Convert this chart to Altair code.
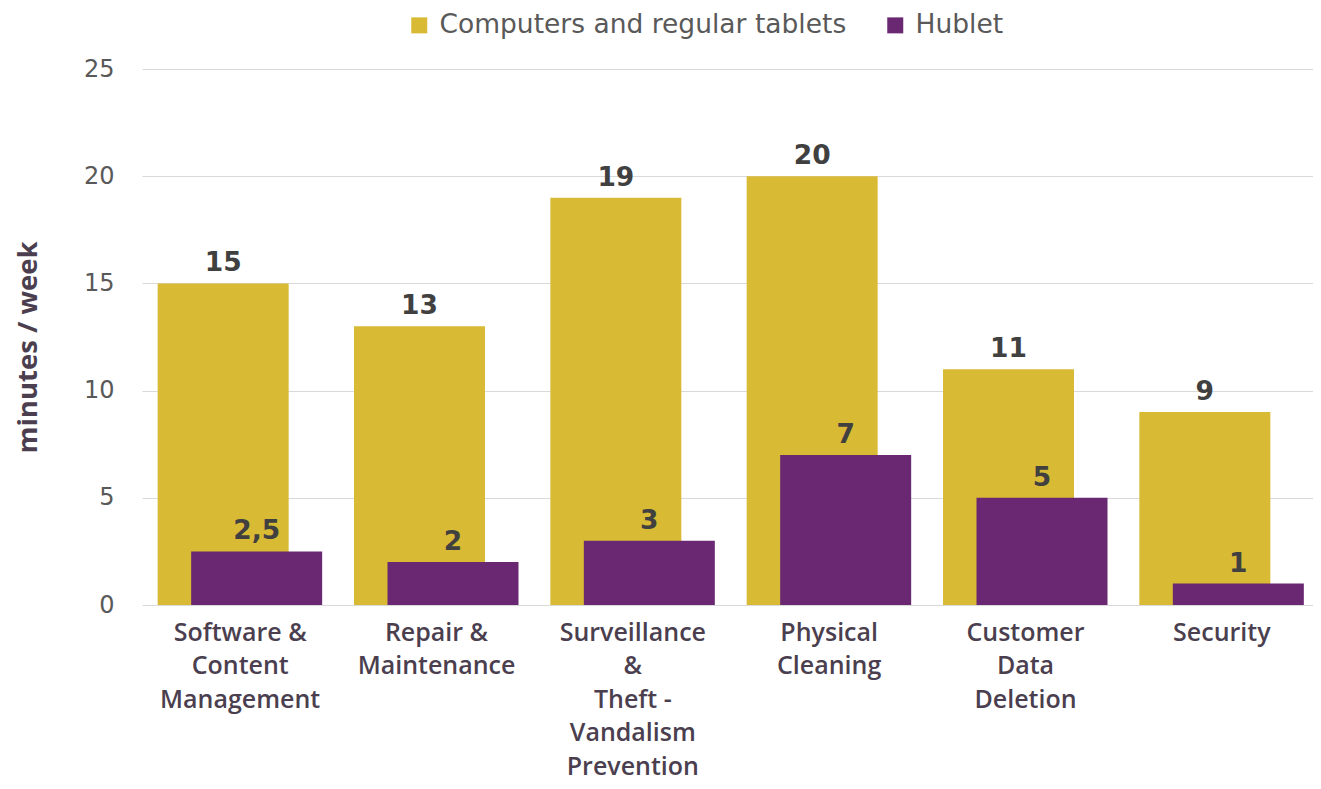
import altair as alt
import pandas as pd

categories = [
    "Software &\nContent\nManagement",
    "Repair &\nMaintenance",
    "Surveillance\n&\nTheft -\nVandalism\nPrevention",
    "Physical\nCleaning",
    "Customer\nData\nDeletion",
    "Security",
]
series_names = ["Computers and regular tablets", "Hublet"]
computers = [15, 13, 19, 20, 11, 9]
hublet = [2.5, 2, 3, 7, 5, 1]
colors = ["#D9BA35", "#6A2873"]

def fmt(v):
    s = str(v) if v != int(v) else str(int(v))
    return s.replace(".", ",")

rows = []
for c, v in zip(categories, computers):
    rows.append({"cat": c, "series": series_names[0], "value": v, "label": fmt(v)})
for c, v in zip(categories, hublet):
    rows.append({"cat": c, "series": series_names[1], "value": v, "label": fmt(v)})
df = pd.DataFrame(rows)

x = alt.X("cat:N", sort=categories, title=None,
          scale=alt.Scale(paddingInner=0, paddingOuter=0, range=[0, 1178]),
          axis=alt.Axis(labelExpr="split(datum.label, '\\n')", labelAngle=0,
                        labelFont="Open Sans", labelFontWeight=600, labelFontSize=25,
                        labelColor="#4B3F4F", labelLineHeight=33.5, labelPadding=15,
                        ticks=False, domain=False, grid=False, labelAlign="center",
                        labelLimit=0))
y = alt.Y("value:Q", title="minutes / week",
          scale=alt.Scale(domain=[0, 25], nice=False),
          axis=alt.Axis(values=[0, 5, 10, 15, 20, 25], ticks=False, domain=False,
                        grid=True, gridColor="#D9D9D9", gridWidth=1,
                        labelFont="DejaVu Sans", labelFontSize=24, labelColor="#595959",
                        labelPadding=28,
                        titleFont="Open Sans", titleFontWeight="bold", titleFontSize=27.5,
                        titleColor="#4B3F4F", titleAngle=-90, titleX=-114, titleY=278,
                        titleAlign="center", titleBaseline="middle"))
color = alt.Color("series:N", scale=alt.Scale(domain=series_names, range=colors),
                  legend=alt.Legend(title=None, orient="none", direction="horizontal",
                                    legendX=264, legendY=-57, symbolType="square",
                                    symbolSize=256, symbolStrokeWidth=0,
                                    labelFont="DejaVu Sans", labelFontSize=26.5,
                                    labelColor="#595959", labelOffset=7,
                                    labelLimit=0, columnPadding=35))

base = alt.Chart(df)
bar_c = base.transform_filter(alt.datum.series == series_names[0]).mark_bar(
    width=131, xOffset=-17).encode(x=x, y=y, color=color)
bar_h = base.transform_filter(alt.datum.series == series_names[1]).mark_bar(
    width=131, xOffset=16.5).encode(x=x, y=y, color=color)
txt_c = base.transform_filter(alt.datum.series == series_names[0]).mark_text(
    xOffset=-17, dy=-12, baseline="alphabetic", font="DejaVu Sans", fontWeight="bold",
    fontSize=26.5, color="#404040").encode(x=x, y=y, text="label:N")
txt_h = base.transform_filter(alt.datum.series == series_names[1]).mark_text(
    xOffset=16.5, dy=-12, baseline="alphabetic", font="DejaVu Sans", fontWeight="bold",
    fontSize=26.5, color="#404040").encode(x=x, y=y, text="label:N")

chart = alt.layer(bar_c, bar_h, txt_c, txt_h).properties(
    width=1171, height=536,
    autosize=alt.AutoSizeParams(type="none"),
    padding={"left": 134, "top": 61, "right": 0, "bottom": 175},
).configure_view(stroke=None)

chart.save("out.html", embed_options={"renderer": "svg", "actions": False})
